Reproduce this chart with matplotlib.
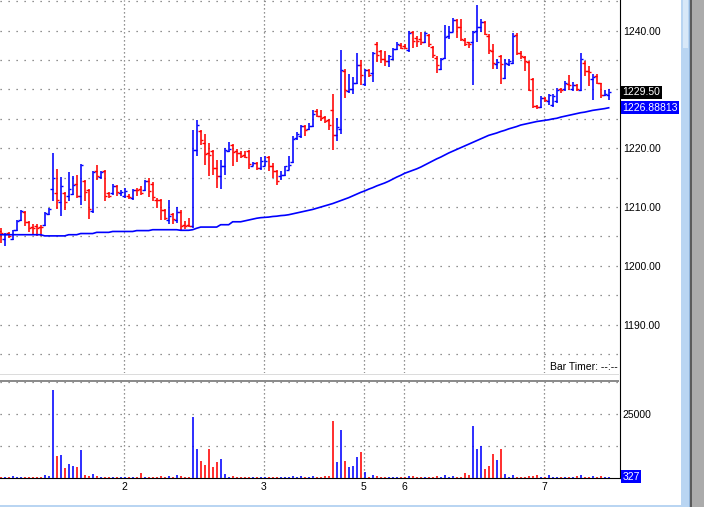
import numpy as np
import matplotlib
matplotlib.use('Agg')
import matplotlib.pyplot as plt
from matplotlib.transforms import blended_transform_factory
from matplotlib.patches import Rectangle
from matplotlib.lines import Line2D

plt.rcParams['font.family'] = ['Liberation Sans', 'DejaVu Sans']

opens = [1205.97, 1204.55, 1205.51, 1204.55, 1206.14, 1207.78, 1209.09, 1207.50, 1206.53, 1206.70,
         1206.65, 1206.93, 1208.81, 1213.07, 1212.40, 1210.80, 1212.39, 1211.93, 1212.22, 1213.92,
         1211.93, 1214.49, 1212.95, 1209.38, 1216.08, 1215.06, 1216.19, 1212.39, 1212.39, 1213.64,
         1212.33, 1211.93, 1211.93, 1211.53, 1212.95, 1213.13, 1212.84, 1214.38, 1213.98, 1211.25,
         1211.14, 1209.55, 1207.84, 1208.86, 1207.84, 1209.09, 1206.99, 1206.99, 1206.82, 1219.77,
         1223.01, 1220.91, 1219.20, 1219.49, 1216.65, 1215.34, 1217.05, 1219.49, 1220.63, 1219.49,
         1219.20, 1218.92, 1219.49, 1217.05, 1217.50, 1216.65, 1217.05, 1218.52, 1216.93, 1216.08,
         1215.23, 1215.51, 1216.36, 1217.61, 1221.76, 1222.16, 1223.86, 1223.30, 1223.86, 1226.31,
         1225.57, 1225.34, 1224.77, 1226.59, 1222.33, 1223.30, 1233.13, 1229.72, 1230.11, 1231.02,
         1234.09, 1230.86, 1233.31, 1232.86, 1237.71, 1236.57, 1235.14, 1234.86, 1235.14, 1236.97,
         1237.54, 1237.43, 1236.74, 1239.71, 1238.69, 1238.57, 1238.11, 1239.26, 1237.31, 1235.43,
         1233.54, 1235.43, 1239.03, 1239.83, 1241.89, 1240.57, 1238.46, 1238.00, 1238.00, 1240.00,
         1240.57, 1241.43, 1239.14, 1236.57, 1234.29, 1235.71, 1232.00, 1234.29, 1234.57, 1239.26,
         1236.29, 1235.60, 1234.69, 1231.83, 1227.26, 1227.03, 1228.57, 1228.00, 1227.43, 1228.00,
         1230.11, 1230.00, 1230.86, 1230.00, 1230.69, 1229.89, 1234.57, 1233.14, 1231.83, 1232.29,
         1231.03, 1229.14, 1229.14]

highs = [1206.36, 1205.57, 1205.68, 1206.14, 1207.84, 1209.55, 1209.26, 1207.67, 1207.10, 1207.10,
         1206.93, 1209.09, 1209.83, 1219.20, 1216.48, 1215.06, 1212.50, 1216.02, 1215.23, 1215.45,
         1217.33, 1214.66, 1213.07, 1216.14, 1217.22, 1216.08, 1216.36, 1212.61, 1213.92, 1213.81,
         1212.95, 1213.24, 1212.16, 1213.07, 1213.24, 1213.52, 1214.55, 1214.94, 1214.20, 1211.53,
         1211.36, 1209.66, 1211.14, 1208.98, 1210.00, 1209.55, 1207.56, 1208.13, 1223.07, 1224.89,
         1223.18, 1222.50, 1220.91, 1219.77, 1218.07, 1218.07, 1220.06, 1221.02, 1220.80, 1219.89,
         1219.49, 1219.49, 1219.77, 1217.61, 1217.61, 1218.52, 1218.64, 1218.75, 1217.50, 1216.25,
         1216.08, 1217.05, 1218.64, 1222.05, 1222.73, 1224.03, 1224.03, 1224.32, 1226.59, 1226.70,
         1226.59, 1225.57, 1225.00, 1229.15, 1225.17, 1236.70, 1233.41, 1232.56, 1232.16, 1236.14,
         1235.10, 1233.54, 1233.43, 1236.40, 1238.00, 1236.69, 1236.57, 1235.83, 1237.14, 1238.11,
         1237.89, 1237.71, 1240.00, 1240.00, 1239.14, 1239.83, 1239.71, 1239.43, 1237.43, 1235.71,
         1235.43, 1240.97, 1240.74, 1242.11, 1242.00, 1242.00, 1238.69, 1238.11, 1240.00, 1244.29,
         1242.00, 1241.71, 1239.43, 1237.71, 1235.26, 1235.83, 1235.14, 1235.14, 1239.60, 1239.60,
         1236.57, 1235.71, 1234.86, 1232.00, 1227.43, 1228.97, 1228.74, 1229.31, 1229.31, 1230.29,
         1230.29, 1231.43, 1232.40, 1231.26, 1230.86, 1236.29, 1234.86, 1234.00, 1232.57, 1232.57,
         1231.14, 1229.89, 1230.00]

lows = [1203.86, 1203.30, 1204.66, 1204.43, 1205.97, 1207.67, 1206.70, 1205.68, 1205.40, 1205.11,
        1205.00, 1206.70, 1208.64, 1211.08, 1209.66, 1208.52, 1209.55, 1211.08, 1212.05, 1211.48,
        1210.40, 1211.08, 1207.95, 1208.98, 1214.66, 1214.77, 1210.97, 1211.48, 1212.05, 1211.82,
        1211.82, 1211.53, 1211.36, 1211.25, 1211.93, 1212.10, 1212.67, 1211.70, 1210.97, 1209.83,
        1207.73, 1207.73, 1207.16, 1207.16, 1207.27, 1206.02, 1206.25, 1206.59, 1206.42, 1218.75,
        1220.63, 1217.22, 1215.23, 1215.51, 1213.24, 1213.07, 1215.51, 1219.32, 1216.93, 1217.61,
        1218.35, 1218.35, 1216.48, 1216.93, 1216.25, 1216.36, 1216.93, 1216.08, 1214.94, 1213.69,
        1214.55, 1215.23, 1216.25, 1217.50, 1221.48, 1221.76, 1222.16, 1223.07, 1223.64, 1225.34,
        1224.60, 1224.32, 1223.07, 1219.77, 1221.19, 1222.50, 1228.58, 1229.32, 1229.15, 1230.85,
        1230.69, 1230.57, 1232.17, 1231.26, 1234.69, 1234.57, 1234.00, 1233.89, 1235.03, 1236.74,
        1236.86, 1236.97, 1236.40, 1237.14, 1237.31, 1237.54, 1237.89, 1237.31, 1235.43, 1232.86,
        1233.31, 1235.26, 1238.57, 1239.71, 1238.69, 1238.29, 1237.43, 1237.14, 1230.69, 1238.00,
        1239.71, 1239.26, 1236.00, 1233.43, 1233.54, 1230.86, 1231.83, 1234.00, 1234.29, 1235.83,
        1235.14, 1233.14, 1229.71, 1226.86, 1226.69, 1226.86, 1227.83, 1227.43, 1227.03, 1227.71,
        1229.43, 1229.71, 1229.89, 1229.71, 1229.71, 1229.71, 1232.29, 1230.57, 1228.29, 1230.86,
        1228.57, 1228.97, 1228.29]

closes = [1205.51, 1205.40, 1205.11, 1206.02, 1207.67, 1209.38, 1207.39, 1206.36, 1206.36, 1206.36,
          1206.53, 1208.98, 1209.66, 1214.89, 1211.19, 1213.52, 1210.80, 1213.07, 1213.75, 1211.82,
          1217.16, 1212.50, 1209.66, 1216.02, 1215.23, 1215.91, 1211.93, 1211.93, 1213.64, 1212.50,
          1212.61, 1212.67, 1211.70, 1212.84, 1212.84, 1212.39, 1214.38, 1212.67, 1211.70, 1211.14,
          1209.55, 1208.13, 1208.52, 1207.95, 1209.09, 1206.70, 1206.82, 1206.82, 1219.66, 1224.03,
          1221.48, 1219.09, 1218.92, 1216.65, 1215.34, 1217.05, 1219.66, 1219.89, 1219.32, 1219.20,
          1218.75, 1218.52, 1217.39, 1217.50, 1216.65, 1217.78, 1217.78, 1216.93, 1216.08, 1214.38,
          1215.51, 1216.93, 1217.22, 1221.59, 1222.50, 1223.86, 1223.18, 1223.86, 1225.91, 1225.57,
          1225.17, 1224.60, 1224.03, 1222.33, 1223.64, 1233.30, 1229.89, 1230.00, 1231.02, 1234.09,
          1232.50, 1233.31, 1232.40, 1236.17, 1235.83, 1235.26, 1234.86, 1235.71, 1236.97, 1237.71,
          1237.14, 1237.14, 1239.60, 1238.29, 1238.29, 1238.00, 1239.60, 1237.71, 1235.83, 1234.11,
          1235.26, 1238.86, 1239.71, 1241.89, 1240.57, 1238.57, 1237.71, 1237.71, 1239.83, 1240.57,
          1241.54, 1239.43, 1236.74, 1234.57, 1234.69, 1234.29, 1234.57, 1234.86, 1239.14, 1236.29,
          1235.71, 1234.86, 1229.89, 1227.14, 1227.03, 1228.57, 1228.29, 1229.14, 1228.97, 1229.89,
          1229.89, 1231.03, 1230.69, 1230.69, 1230.00, 1235.26, 1233.14, 1232.97, 1232.17, 1231.14,
          1229.14, 1229.31, 1229.50]

volumes = [520, 520, 400, 900, 520, 520, 520, 520, 520, 520,
           520, 1300, 900, 34500, 8700, 9100, 4000, 5600, 4800, 4400,
           11000, 1300, 780, 1700, 900, 520, 520, 520, 520, 400,
           520, 400, 520, 520, 520, 2100, 520, 520, 520, 520,
           900, 520, 900, 520, 1300, 900, 520, 520, 24000, 11500,
           6800, 5200, 11500, 4400, 6400, 7500, 1700, 520, 900, 520,
           520, 520, 520, 520, 520, 520, 400, 520, 520, 520,
           520, 520, 520, 900, 520, 900, 520, 520, 900, 520,
           520, 900, 900, 22400, 6400, 18900, 6800, 4400, 4800, 8300,
           10300, 2500, 520, 1300, 900, 520, 520, 520, 520, 520,
           520, 400, 900, 900, 520, 520, 520, 520, 520, 900,
           520, 1300, 520, 900, 520, 520, 2100, 1300, 20400, 11500,
           12600, 3600, 4800, 9500, 7200, 11500, 1700, 520, 1300, 520,
           520, 520, 900, 900, 1300, 520, 520, 1300, 520, 520,
           520, 520, 520, 520, 900, 1300, 520, 520, 900, 520,
           900, 520, 327]

ma = [1205.3, 1205.3, 1205.3, 1205.3, 1205.3, 1205.3, 1205.3, 1205.3, 1205.3, 1205.3,
      1205.3, 1205.1, 1205.1, 1205.1, 1205.1, 1205.1, 1205.1, 1205.3, 1205.3, 1205.3,
      1205.5, 1205.5, 1205.5, 1205.5, 1205.7, 1205.7, 1205.7, 1205.7, 1205.85, 1205.85,
      1205.85, 1205.85, 1205.85, 1205.85, 1206.0, 1206.0, 1206.0, 1206.0, 1206.15, 1206.15,
      1206.15, 1206.15, 1206.15, 1206.15, 1206.15, 1206.05, 1206.05, 1206.05, 1206.15, 1206.4,
      1206.6, 1206.6, 1206.6, 1206.6, 1206.6, 1207.0, 1207.0, 1207.0, 1207.5, 1207.5,
      1207.5, 1207.65, 1207.8, 1207.95, 1208.1, 1208.2, 1208.25, 1208.3, 1208.4, 1208.45,
      1208.55, 1208.6, 1208.7, 1208.85, 1209.0, 1209.15, 1209.3, 1209.45, 1209.6, 1209.8,
      1210.0, 1210.2, 1210.4, 1210.6, 1210.85, 1211.1, 1211.35, 1211.6, 1211.9, 1212.2,
      1212.5, 1212.75, 1213.05, 1213.3, 1213.6, 1213.85, 1214.1, 1214.4, 1214.75, 1215.1,
      1215.4, 1215.75, 1216.0, 1216.25, 1216.5, 1216.8, 1217.15, 1217.5, 1217.85, 1218.2,
      1218.5, 1218.85, 1219.2, 1219.5, 1219.8, 1220.1, 1220.4, 1220.7, 1221.0, 1221.3,
      1221.6, 1221.9, 1222.2, 1222.4, 1222.6, 1222.85, 1223.05, 1223.3, 1223.5, 1223.7,
      1223.95, 1224.1, 1224.25, 1224.4, 1224.55, 1224.65, 1224.75, 1224.85, 1225.0, 1225.1,
      1225.3, 1225.45, 1225.6, 1225.75, 1225.9, 1226.05, 1226.15, 1226.3, 1226.45, 1226.55,
      1226.65, 1226.75, 1226.88813]

day_labels = ['2', '3', '5', '6', '7']
day_bars = [31, 66, 91, 101, 136]
price_ticks = [1190, 1200, 1210, 1220, 1240]
price_grid = [1185, 1190, 1195, 1200, 1205, 1210, 1215, 1220, 1225, 1230, 1235, 1240, 1245]
vol_grid = [12500, 25000, 37500]
vol_ticks = [25000]

W, H = 704, 507
BLUE = '#0000FF'
RED = '#FF0000'
GRID = '#6e6e6e'
FS = 7.5

def fy(py):
    return 1 - py / H

fig = plt.figure(figsize=(W / 100, H / 100), dpi=100)
fig.patch.set_facecolor('white')

ax = fig.add_axes([0, fy(373), 620 / W, 373 / H])
axv = fig.add_axes([0, fy(478.3), 620 / W, (478.3 - 382) / H])

x = np.arange(len(opens))
o = np.array(opens); h = np.array(highs); l = np.array(lows); c = np.array(closes)
cols = [BLUE if cc >= oo else RED for oo, cc in zip(o, c)]

xlim = (-0.175, 154.825)
for a in (ax, axv):
    a.set_xlim(*xlim)
    for s in a.spines.values():
        s.set_visible(False)
    a.set_facecolor('white')

ax.set_ylim(1181.78, 1245.22)
axv.set_ylim(0, 37617)

# grids
for p in price_grid:
    ax.axhline(p, color=GRID, lw=0.9, dashes=(1, 5.4), zorder=0)
for v in vol_grid:
    axv.axhline(v, color=GRID, lw=0.9, dashes=(1, 5.4), zorder=0)
for b in day_bars:
    ax.axvline(b - 0.2, color=GRID, lw=0.9, dashes=(1, 2.2), zorder=0)
    axv.axvline(b - 0.2, color=GRID, lw=0.9, dashes=(1, 2.2), zorder=0)

# OHLC bars
ax.vlines(x, l, h, colors=cols, lw=1.15, zorder=3)
ax.hlines(o, x - 0.6, x, colors=cols, lw=1.0, zorder=3)
ax.hlines(c, x, x + 0.6, colors=cols, lw=1.0, zorder=3)

# moving average
ax.plot(x, ma, color=BLUE, lw=1.2, zorder=4)

# volume
axv.vlines(x, 0, volumes, colors=cols, lw=1.15, zorder=3)

# ticks
ax.yaxis.tick_right()
ax.set_yticks(price_ticks)
ax.set_yticklabels([f'{p:.2f}' for p in price_ticks])
ax.tick_params(axis='y', length=0, pad=2.2, labelsize=FS)
ax.tick_params(axis='x', bottom=False, labelbottom=False)

axv.yaxis.tick_right()
axv.set_yticks(vol_ticks)
axv.set_yticklabels([str(v) for v in vol_ticks])
axv.tick_params(axis='y', length=0, pad=1.5, labelsize=FS)
axv.set_xticks([b - 0.2 for b in day_bars])
axv.set_xticklabels(day_labels)
axv.tick_params(axis='x', length=0, pad=3, labelsize=FS)

# value boxes
tr = blended_transform_factory(ax.transAxes, ax.transData)
ax.text(1.0 + 2.5 / 620, closes[-1], f'{closes[-1]:.2f}', transform=tr, ha='left', va='center',
        color='white', fontsize=FS, clip_on=False, zorder=10,
        bbox=dict(boxstyle='square,pad=0.15', fc='black', ec='none'))
ax.text(1.0 + 2.0 / 620, ma[-1], f'{ma[-1]:.5f}', transform=tr, ha='left', va='center',
        color='white', fontsize=FS, clip_on=False, zorder=10,
        bbox=dict(boxstyle='square,pad=0.15', fc=BLUE, ec='none'))
trv = blended_transform_factory(axv.transAxes, axv.transData)
axv.text(1.0 + 2.5 / 620, volumes[-1] + 300, str(volumes[-1]), transform=trv, ha='left', va='center',
         color='white', fontsize=FS, clip_on=False, zorder=10,
         bbox=dict(boxstyle='square,pad=0.15', fc=BLUE, ec='none'))

fig.text(618 / W, fy(367), 'Bar Timer: --:--', ha='right', va='center', fontsize=FS)

# separators / frame
fig.add_artist(Rectangle((0, fy(375)), 619 / W, 1 / H, transform=fig.transFigure, color='#dcdcdc', lw=0))
fig.add_artist(Rectangle((0, fy(382)), 619 / W, 2.5 / H, transform=fig.transFigure, color='#8c8c8c', lw=0))
fig.add_artist(Line2D([620.3 / W, 620.3 / W], [1, fy(478.3)], transform=fig.transFigure, color='black', lw=0.8))
fig.add_artist(Line2D([0, 620.3 / W], [fy(478.3), fy(478.3)], transform=fig.transFigure, color='black', lw=0.8))

# right scrollbar strip
fig.add_artist(Rectangle((681 / W, 0), 9 / W, 1, transform=fig.transFigure, color='#b9d5f2', lw=0))
fig.add_artist(Rectangle((682.5 / W, fy(48)), 5.5 / W, 48 / H, transform=fig.transFigure, color='#d8e8f8', lw=0))
fig.add_artist(Rectangle((688.5 / W, 0), 1 / W, 1, transform=fig.transFigure, color='#8fb2d8', lw=0))
fig.add_artist(Rectangle((690 / W, 0), 1.8 / W, 1, transform=fig.transFigure, color='#5a5a5a', lw=0))
fig.add_artist(Rectangle((691.8 / W, 0), 12.2 / W, 1, transform=fig.transFigure, color='#ababab', lw=0))
fig.add_artist(Rectangle((0, 0), 681 / W, 2 / H, transform=fig.transFigure, color='#b9d5f2', lw=0))

fig.savefig('out.png', dpi=100, facecolor='white')
